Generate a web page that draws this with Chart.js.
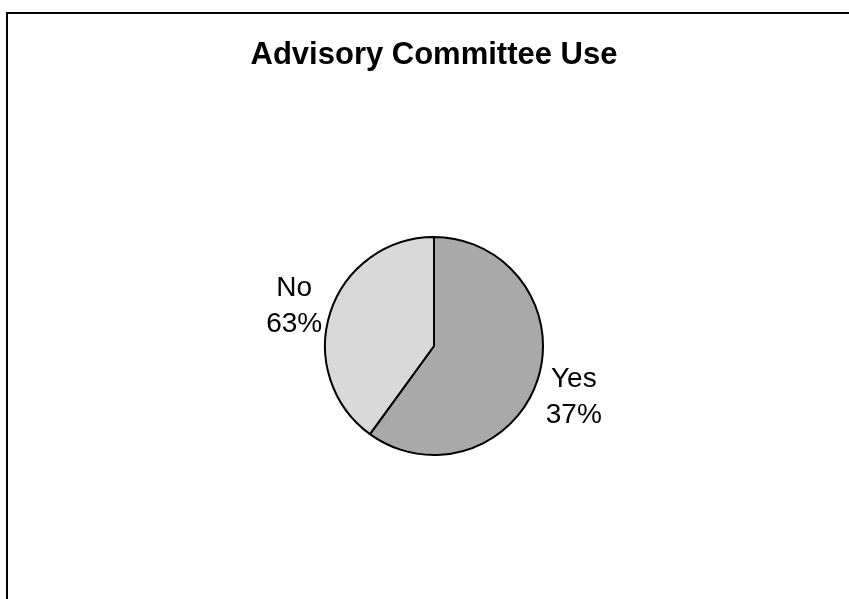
<!DOCTYPE html>
<html>
<head>
<meta charset="utf-8">
<script src="https://cdn.jsdelivr.net/npm/chart.js@4/dist/chart.umd.min.js"></script>
<style>
  html, body { margin: 0; padding: 0; background: #fff; }
  #wrap { position: relative; width: 849px; height: 599px; }
</style>
</head>
<body>
<div id="wrap"><canvas id="c" width="849" height="599"></canvas></div>
<script>
// Data
const chartTitle = 'Advisory Committee Use';
const categories = ['Yes', 'No'];
const sliceShares = [60, 40];          // slice sizes as drawn in the picture
const percentLabels = ['37%', '63%'];  // percentages printed next to the slices
const sliceColors = ['#a9a9a9', '#d9d9d9'];

const frameBorder = {
  id: 'frameBorder',
  beforeDraw(chart) {
    const ctx = chart.ctx;
    ctx.save();
    ctx.fillStyle = '#ffffff';
    ctx.fillRect(0, 0, chart.width, chart.height);
    ctx.strokeStyle = '#000';
    ctx.lineWidth = 2;
    ctx.beginPath();
    ctx.moveTo(7, chart.height + 5);
    ctx.lineTo(7, 13);
    ctx.lineTo(chart.width + 5, 13);
    ctx.stroke();
    ctx.restore();
  }
};

const sliceLabels = {
  id: 'sliceLabels',
  afterDatasetsDraw(chart) {
    const ctx = chart.ctx;
    const meta = chart.getDatasetMeta(0);
    ctx.save();
    ctx.fillStyle = '#000';
    ctx.font = '28px "Liberation Sans", Arial, sans-serif';
    ctx.textAlign = 'center';
    ctx.textBaseline = 'middle';
    meta.data.forEach((arc, i) => {
      const p = arc.getProps(['x', 'y', 'startAngle', 'endAngle', 'outerRadius'], true);
      const mid = (p.startAngle + p.endAngle) / 2;
      const r = p.outerRadius + 38;
      const x = p.x + Math.cos(mid) * r;
      const y = p.y + Math.sin(mid) * r + 5;
      ctx.fillText(categories[i], x, y - 17);
      ctx.fillText(percentLabels[i], x, y + 19);
    });
    ctx.restore();
  }
};

new Chart(document.getElementById('c'), {
  type: 'pie',
  data: {
    labels: categories,
    datasets: [{
      data: sliceShares,
      backgroundColor: sliceColors,
      borderColor: '#000',
      borderWidth: 2,
      radius: 109
    }]
  },
  options: {
    responsive: false,
    animation: false,
    layout: { padding: { left: 19, right: 0, top: 0, bottom: 0 } },
    plugins: {
      legend: { display: false },
      tooltip: { enabled: false },
      title: {
        display: true,
        text: chartTitle,
        color: '#000',
        font: { family: '"Liberation Sans", Arial, sans-serif', size: 31, weight: 'bold', lineHeight: 1.2 },
        padding: { top: 36.4, bottom: 19.4 }
      }
    }
  },
  plugins: [frameBorder, sliceLabels]
});
</script>
</body>
</html>
